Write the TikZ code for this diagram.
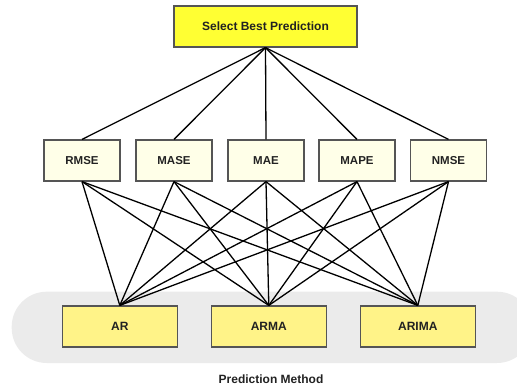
\documentclass[tikz,border=0pt]{standalone}
\usepackage{fontspec}
\setmainfont{Liberation Sans}
\definecolor{bestfill}{HTML}{FFFF33}
\definecolor{metricfill}{HTML}{FFFFE8}
\definecolor{methodfill}{HTML}{FFF388}
\definecolor{bandfill}{HTML}{EBEBEB}
\definecolor{boxline}{HTML}{555555}
\definecolor{labeltext}{HTML}{222222}
\begin{document}
\begin{tikzpicture}
[x=1pt,y=-1pt,
 box/.style={rectangle,draw=boxline,line width=1.2pt,inner sep=0pt,minimum height=41pt,text=labeltext,font=\bfseries\fontsize{12}{14}\selectfont},
 best/.style={box,fill=bestfill,minimum width=183pt},
 metric/.style={box,fill=metricfill,minimum width=76pt,font=\bfseries\fontsize{11.5}{14}\selectfont},
 method/.style={box,fill=methodfill,minimum width=115pt},
 link/.style={line width=1.3pt,black}]
\useasboundingbox (0,0) rectangle (517,385);
\begin{scope}
\clip (0,0) rectangle (517,385);
\fill[bandfill,rounded corners=35pt] (11.7,291.7) rectangle (532,363);
\end{scope}
\node[text=labeltext,font=\bfseries\fontsize{12}{14}\selectfont,inner sep=0pt,anchor=base] (pm) at (271,383.5) {Prediction Method};

\node[best] (sbp) at (265.5,26.5) {Select Best Prediction};

\node[metric] (rmse) at ( 82,160.5) {RMSE};
\node[metric] (mase) at (174,160.5) {MASE};
\node[metric] (mae)  at (266,160.5) {MAE};
\node[metric] (mape) at (357,160.5) {MAPE};
\node[metric] (nmse) at (448.5,160.5) {NMSE};

\node[method] (ar)    at (119.8,326.5) {AR};
\node[method] (arma)  at (268.8,326.5) {ARMA};
\node[method] (arima) at (417.8,326.5) {ARIMA};

\foreach \m in {rmse,mase,mae,mape,nmse} {
  \draw[link] (sbp.south) -- (\m.north);
  \foreach \p in {ar,arma,arima}
    \draw[link] (\m.south) -- (\p.north);
}
\end{tikzpicture}
\end{document}
